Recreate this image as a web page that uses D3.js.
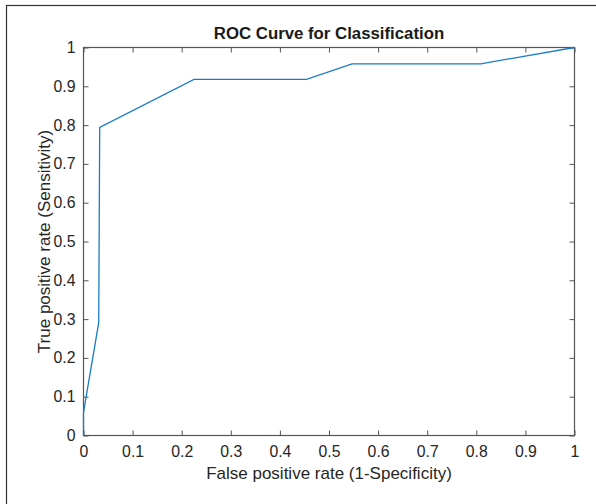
<!DOCTYPE html>
<html>
<head>
<meta charset="utf-8">
<script src="https://cdn.jsdelivr.net/npm/d3@7/dist/d3.min.js"></script>
<style>
  html, body { margin: 0; padding: 0; background: #fff; }
  svg { display: block; font-family: "Liberation Sans", Arial, sans-serif; }
</style>
</head>
<body>
<svg id="chart" width="596" height="504"></svg>
<script>
// Data
const fpr = [0, 0, 0.0055, 0.031, 0.033, 0.225, 0.454, 0.547, 0.809, 1];
const tpr = [0, 0.059, 0.101, 0.291, 0.794, 0.918, 0.918, 0.958, 0.958, 1];
const xTicks = [0, 0.1, 0.2, 0.3, 0.4, 0.5, 0.6, 0.7, 0.8, 0.9, 1];
const yTicks = [0, 0.1, 0.2, 0.3, 0.4, 0.5, 0.6, 0.7, 0.8, 0.9, 1];
const titleText = "ROC Curve for Classification";
const xLabelText = "False positive rate (1-Specificity)";
const yLabelText = "True positive rate (Sensitivity)";

const svg = d3.select("#chart");
const W = 596, H = 504;
const m = { left: 83.5, right: 574.5, top: 47.5, bottom: 435.5 };

// outer frame (only left and top visible in the crop)
svg.append("rect")
  .attr("x", 6.5).attr("y", 5.5)
  .attr("width", W + 20).attr("height", H + 20)
  .attr("fill", "#fff").attr("stroke", "#333").attr("stroke-width", 1.2);

const x = d3.scaleLinear().domain([0, 1]).range([m.left, m.right]);
const y = d3.scaleLinear().domain([0, 1]).range([m.bottom, m.top]);

const axisColor = "#555";
const fmt = d => (d === 0 || d === 1) ? String(d) : d.toFixed(1);

function styleAxis(g, showLabels) {
  g.select(".domain").remove();
  g.selectAll(".tick line").attr("stroke", axisColor).attr("stroke-width", 1);
  g.selectAll(".tick text")
    .attr("fill", "#262626")
    .style("font-size", "15.8px")
    .style("display", showLabels ? null : "none");
}

// bottom axis (ticks inward)
svg.append("g")
  .attr("transform", `translate(0,${m.bottom})`)
  .call(d3.axisBottom(x).tickValues(xTicks).tickFormat(fmt).tickSizeInner(-5).tickSizeOuter(0).tickPadding(10))
  .call(g => styleAxis(g, true));
// top axis
svg.append("g")
  .attr("transform", `translate(0,${m.top})`)
  .call(d3.axisTop(x).tickValues(xTicks).tickSizeInner(-5).tickSizeOuter(0))
  .call(g => styleAxis(g, false));
// left axis
svg.append("g")
  .attr("transform", `translate(${m.left},0)`)
  .call(d3.axisLeft(y).tickValues(yTicks).tickFormat(fmt).tickSizeInner(-5).tickSizeOuter(0).tickPadding(8))
  .call(g => styleAxis(g, true));
// right axis
svg.append("g")
  .attr("transform", `translate(${m.right},0)`)
  .call(d3.axisRight(y).tickValues(yTicks).tickSizeInner(-5).tickSizeOuter(0))
  .call(g => styleAxis(g, false));

// box
svg.append("rect")
  .attr("x", m.left).attr("y", m.top)
  .attr("width", m.right - m.left).attr("height", m.bottom - m.top)
  .attr("fill", "none").attr("stroke", axisColor).attr("stroke-width", 1.2);

// ROC curve
const pts = fpr.map((v, i) => [v, tpr[i]]);
svg.append("path")
  .datum(pts)
  .attr("fill", "none")
  .attr("stroke", "#1a7cc8")
  .attr("stroke-width", 1.3)
  .attr("d", d3.line().x(d => x(d[0])).y(d => y(d[1])));

// title
svg.append("text")
  .attr("x", (m.left + m.right) / 2).attr("y", 39)
  .attr("text-anchor", "middle")
  .attr("fill", "#1a1a1a")
  .style("font-size", "16.8px").style("font-weight", "bold")
  .text(titleText);

// x label
svg.append("text")
  .attr("x", (m.left + m.right) / 2).attr("y", 479)
  .attr("text-anchor", "middle")
  .attr("fill", "#262626")
  .style("font-size", "17px")
  .text(xLabelText);

// y label
svg.append("text")
  .attr("transform", `translate(50,${(m.top + m.bottom) / 2}) rotate(-90)`)
  .attr("text-anchor", "middle")
  .attr("fill", "#262626")
  .style("font-size", "17px")
  .text(yLabelText);
</script>
</body>
</html>
